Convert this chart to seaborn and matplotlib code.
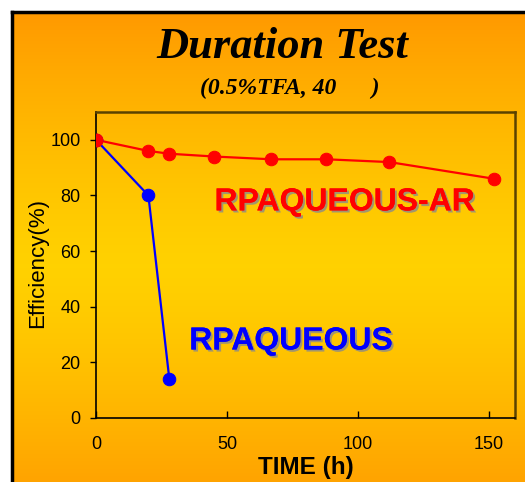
import numpy as np
import matplotlib
matplotlib.use('Agg')
import matplotlib.pyplot as plt
import matplotlib.patheffects as pe
import seaborn as sns

# data
ar_time = [0, 20, 28, 45, 67, 88, 112, 152]
ar_eff = [100, 96, 95, 94, 93, 93, 92, 86]
aq_time = [0, 20, 28]
aq_eff = [100, 80, 14]

sns.set_style('white')
plt.rcParams['font.family'] = ['Liberation Sans', 'DejaVu Sans']
plt.rcParams['text.color'] = 'black'
plt.rcParams['axes.labelcolor'] = 'black'
plt.rcParams['xtick.color'] = 'black'
plt.rcParams['ytick.color'] = 'black'

fig = plt.figure(figsize=(5.25, 4.82), dpi=100)
fig.patch.set_facecolor('white')

# orange/yellow gradient panel with a black frame (cut off right and bottom)
bg = fig.add_axes([12 / 525, 0, 1, 1 - 12 / 482], zorder=-1)
h = 500
t = np.abs(np.linspace(0, 1, h) - 0.54) / 0.54
t = np.clip(t, 0, 1)[:, None] ** 1.3
top = np.array([1.0, 0.60, 0.0])
mid = np.array([1.0, 0.82, 0.0])
grad = mid + (top - mid) * t[..., None]
grad = np.repeat(grad, 2, axis=1)
bg.imshow(grad, aspect='auto', extent=[0, 1, 0, 1])
bg.set_xticks([])
bg.set_yticks([])
for s in ['right', 'bottom']:
    bg.spines[s].set_visible(False)
for s in ['left', 'top']:
    bg.spines[s].set_color('black')
    bg.spines[s].set_linewidth(2.5)

ax = fig.add_axes([96 / 525, 1 - 418 / 482, 419 / 525, 306 / 482])
ax.patch.set_alpha(0)

sns.lineplot(x=ar_time, y=ar_eff, ax=ax, color='red', lw=1.6, marker='o',
             markersize=9, markeredgecolor='red')
sns.lineplot(x=aq_time, y=aq_eff, ax=ax, color='blue', lw=1.6, marker='o',
             markersize=9, markeredgecolor='blue')
# redraw the shared start point in red on top
ax.plot(ar_time[0], ar_eff[0], 'o', color='red', markersize=9, zorder=5)

ax.set_xlim(0, 160)
ax.set_ylim(0, 110)
ax.set_xticks([0, 50, 100, 150])
ax.set_yticks(range(0, 101, 20))
ax.tick_params(axis='x', direction='in', length=5, width=1, pad=13,
               labelsize=13, bottom=True)
ax.tick_params(axis='y', direction='out', length=4, width=1, pad=7,
               labelsize=13, left=True)

for s in ['left', 'bottom']:
    ax.spines[s].set_color('black')
    ax.spines[s].set_linewidth(1.2)
for s in ['top', 'right']:
    ax.spines[s].set_color('#5a4200')
    ax.spines[s].set_linewidth(1.8)

ax.set_xlabel('TIME (h)', fontsize=17.5, fontweight='bold')
ax.xaxis.set_label_coords(0.5, -0.125)
ax.set_ylabel('Efficiency(%)', fontsize=16)
ax.yaxis.set_label_coords(-0.115, 0.505)

shadow = [pe.withSimplePatchShadow(offset=(1.5, -1.5), shadow_rgbFace='#8a8a8a',
                                   alpha=0.8), pe.Normal()]
ax.text(95, 77.5, 'RPAQUEOUS-AR', color='red', fontsize=23, fontweight='bold',
        ha='center', va='center', path_effects=shadow)
ax.text(74.5, 27.5, 'RPAQUEOUS', color='blue', fontsize=23, fontweight='bold',
        ha='center', va='center', path_effects=shadow)

fig.text(282 / 525, 1 - 47 / 482, 'Duration Test', family='Liberation Serif',
         fontsize=32, fontweight='bold', style='italic', ha='center', va='center')
fig.text(290 / 525, 1 - 88 / 482, '(0.5%TFA, 40      )', family='Liberation Serif',
         fontsize=17, fontweight='bold', style='italic', ha='center', va='center')

fig.savefig('out.png', dpi=100, facecolor='white')
